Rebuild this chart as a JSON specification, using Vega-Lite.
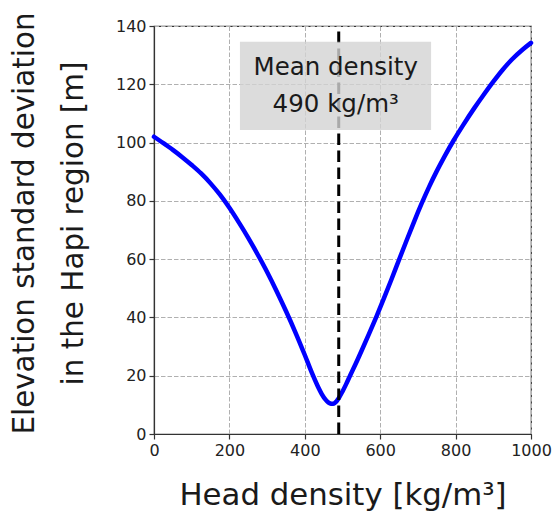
{
  "$schema": "https://vega.github.io/schema/vega-lite/v6.json",
  "width": 377,
  "height": 408,
  "autosize": {"type": "none"},
  "padding": {"left": 154, "top": 26, "right": 25, "bottom": 84},
  "background": "white",
  "config": {
    "font": "DejaVu Sans",
    "view": {"stroke": "#333333", "strokeWidth": 1.2},
    "axis": {
      "labelFont": "DejaVu Sans",
      "titleFont": "DejaVu Sans",
      "labelFontSize": 16,
      "labelColor": "#222222",
      "titleColor": "#1a1a1a",
      "titleFontWeight": "normal",
      "domainColor": "#333333",
      "domainWidth": 1.2,
      "tickColor": "#333333",
      "tickWidth": 1.2,
      "tickSize": 5,
      "labelPadding": 3,
      "labelFlush": false,
      "grid": true,
      "gridColor": "#b0b0b0",
      "gridDash": [4.5, 2],
      "gridWidth": 1
    }
  },
  "datasets": {
    "curve": [
      {"density": 0, "sd": 102},
      {"density": 25, "sd": 99.8},
      {"density": 50, "sd": 97.5},
      {"density": 75, "sd": 95},
      {"density": 100, "sd": 92.3},
      {"density": 125, "sd": 89.4},
      {"density": 150, "sd": 86},
      {"density": 175, "sd": 82.1},
      {"density": 200, "sd": 77.6},
      {"density": 225, "sd": 72.6},
      {"density": 250, "sd": 67.3},
      {"density": 275, "sd": 61.6},
      {"density": 300, "sd": 55.6},
      {"density": 325, "sd": 49.1},
      {"density": 350, "sd": 42.2},
      {"density": 375, "sd": 34.9},
      {"density": 400, "sd": 27.1},
      {"density": 420, "sd": 20.6},
      {"density": 435, "sd": 16.2},
      {"density": 445, "sd": 13.7},
      {"density": 455, "sd": 11.8},
      {"density": 463, "sd": 10.8},
      {"density": 470, "sd": 10.4},
      {"density": 475, "sd": 10.35},
      {"density": 480, "sd": 10.7},
      {"density": 490, "sd": 12.3},
      {"density": 500, "sd": 14.6},
      {"density": 510, "sd": 17.2},
      {"density": 520, "sd": 20},
      {"density": 535, "sd": 24.1},
      {"density": 550, "sd": 28.4},
      {"density": 570, "sd": 34.3},
      {"density": 590, "sd": 40.3},
      {"density": 610, "sd": 46.6},
      {"density": 630, "sd": 53.1},
      {"density": 650, "sd": 59.8},
      {"density": 670, "sd": 66.4},
      {"density": 690, "sd": 72.9},
      {"density": 710, "sd": 79.1},
      {"density": 730, "sd": 84.9},
      {"density": 750, "sd": 90.2},
      {"density": 770, "sd": 95.1},
      {"density": 795, "sd": 100.8},
      {"density": 820, "sd": 106},
      {"density": 850, "sd": 111.9},
      {"density": 875, "sd": 116.5},
      {"density": 900, "sd": 120.9},
      {"density": 925, "sd": 125},
      {"density": 950, "sd": 128.6},
      {"density": 975, "sd": 131.6},
      {"density": 1000, "sd": 134.2}
    ],
    "mean": [{"density": 490, "lo": 0, "hi": 140}],
    "box": [{"x1": 228, "x2": 735, "y1": 104.3, "y2": 134.6}],
    "labels": [
      {"density": 482, "sd": 123.2, "label": "Mean density"},
      {"density": 482, "sd": 110.6, "label": "490 kg/m³"}
    ]
  },
  "layer": [
    {
      "data": {"name": "curve"},
      "mark": {"type": "line", "color": "#0000ff", "strokeWidth": 4.5, "interpolate": "monotone", "strokeCap": "round"},
      "encoding": {
        "x": {
          "field": "density", "type": "quantitative",
          "scale": {"domain": [0, 1000], "nice": false},
          "axis": {"values": [0, 200, 400, 600, 800, 1000], "format": "d", "title": "Head density [kg/m³]", "titleFontSize": 30.8, "titlePadding": 22}
        },
        "y": {
          "field": "sd", "type": "quantitative",
          "scale": {"domain": [0, 140], "nice": false},
          "axis": {"values": [0, 20, 40, 60, 80, 100, 120, 140], "title": ["Elevation standard deviation", "in the Hapi region [m]"], "titleFontSize": 29.4, "titlePadding": 27, "titleLineHeight": 49, "titleY": 197}
        }
      }
    },
    {
      "data": {"name": "mean"},
      "mark": {"type": "rule", "color": "black", "strokeWidth": 3, "strokeDash": [11.5, 5.5]},
      "encoding": {
        "x": {"field": "density", "type": "quantitative"},
        "y": {"field": "lo", "type": "quantitative"},
        "y2": {"field": "hi"}
      }
    },
    {
      "data": {"name": "box"},
      "mark": {"type": "rect", "color": "#d3d3d3", "opacity": 0.8},
      "encoding": {
        "x": {"field": "x1", "type": "quantitative"},
        "x2": {"field": "x2"},
        "y": {"field": "y1", "type": "quantitative"},
        "y2": {"field": "y2"}
      }
    },
    {
      "data": {"name": "labels"},
      "mark": {"type": "text", "fontSize": 24.5, "color": "#1a1a1a", "align": "center", "baseline": "alphabetic", "font": "DejaVu Sans"},
      "encoding": {
        "x": {"field": "density", "type": "quantitative"},
        "y": {"field": "sd", "type": "quantitative"},
        "text": {"field": "label"}
      }
    }
  ]
}
